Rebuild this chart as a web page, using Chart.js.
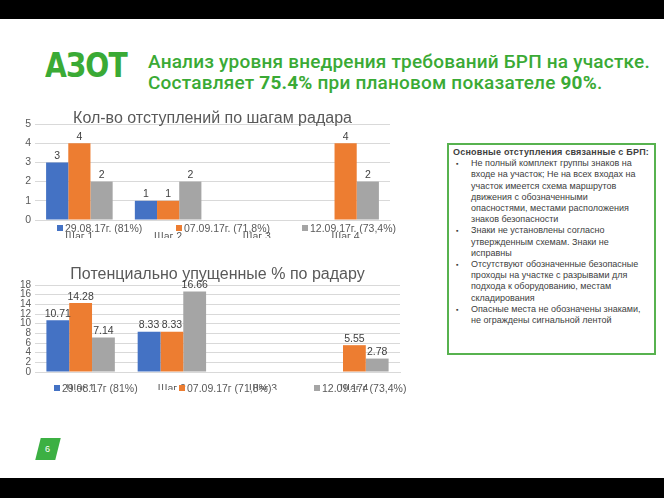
<!DOCTYPE html>
<html><head><meta charset="utf-8">
<script src="https://cdn.jsdelivr.net/npm/chart.js@4"></script>
<style>
html,body{margin:0;padding:0;width:664px;height:498px;overflow:hidden;background:#fff;font-family:"Liberation Sans",Arial,sans-serif;}
.abs{position:absolute}
#topbar{left:0;top:0;width:664px;height:19px;background:#000}
#botbar{left:0;top:478px;width:664px;height:20px;background:#000}
#logo{left:45px;top:45px;font-family:"DejaVu Sans";font-weight:bold;font-size:34px;line-height:40px;color:#3aaa35;transform-origin:left top;transform:scaleX(0.83);letter-spacing:-1px;white-space:nowrap}
#title{left:148px;top:51px;font-family:Roboto,"Liberation Sans";font-weight:500;font-size:19px;letter-spacing:0.2px;line-height:21px;color:#3aaa35;white-space:nowrap}
#title b{font-weight:700}
.chartbox{position:absolute}
.leg{position:absolute;font-size:10.5px;color:#595959;white-space:nowrap;line-height:12px}
.leg i{display:inline-block;width:6px;height:6px;margin-right:2px;vertical-align:1px}
#note{left:447px;top:143px;width:205px;height:208px;border:2px solid #57b24f;color:#404040;font-size:9px;line-height:11.2px}
#note .h{font-weight:bold;margin:2px 0 0 4px;white-space:nowrap;letter-spacing:0.2px}
#note ul{margin:0;padding:0 0 0 22px;list-style:none}
#note li{position:relative;white-space:nowrap}
#note li:before{content:"▪";position:absolute;left:-15px;top:0;font-size:7px}
#page{left:38px;top:438px;width:20px;height:22px;background:#3cb043;transform:skewX(-14deg);color:#fff;font-size:9px;line-height:22px;text-align:center}
</style></head>
<body>
<div id="topbar" class="abs"></div>
<div id="botbar" class="abs"></div>
<div id="logo" class="abs">АЗОТ</div>
<div id="title" class="abs">Анализ уровня внедрения требований БРП на участке.<br>Составляет <b>75.4%</b> при плановом показателе <b>90%</b>.</div>

<div class="chartbox" style="left:15px;top:108px;width:398px;height:130px"><canvas id="c1"></canvas></div>
<div class="chartbox" style="left:15px;top:265px;width:398px;height:125px"><canvas id="c2"></canvas></div>
<div id="leg1"></div>
<div id="leg2"></div>

<div id="note" class="abs">
<div class="h">Основные отступления связанные с БРП:</div>
<ul>
<li>Не полный комплект группы знаков на<br>входе на участок; Не на всех входах на<br>участок имеется схема маршрутов<br>движения с обозначенными<br>опасностями, местами расположения<br>знаков безопасности</li>
<li>Знаки не установлены согласно<br>утвержденным схемам. Знаки не<br>исправны</li>
<li>Отсутствуют обозначенные безопасные<br>проходы на участке с разрывами для<br>подхода к оборудованию, местам<br>складирования</li>
<li>Опасные места не обозначены знаками,<br>не ограждены сигнальной лентой</li>
</ul>
</div>
<div id="page" class="abs"><span style="display:inline-block;transform:skewX(14deg)">6</span></div>

<script>
// ---- data ----
const categories = ['Шаг 1', 'Шаг 2', 'Шаг 3', 'Шаг 4'];
const seriesNames1 = ['29.08.17г. (81%)', '07.09.17г. (71,8%)', '12.09.17г. (73,4%)'];
const seriesNames2 = ['29.08.17г (81%)', '07.09.17г (71,8%)', '12.09.17г (73,4%)'];
const title1 = 'Кол-во отступлений по шагам радара';
const title2 = 'Потенциально упущенные % по радару';
const countA = [3, 1, null, null];
const countB = [4, 1, null, 4];
const countC = [2, 2, null, 2];
const pctA = [10.71, 8.33, null, null];
const pctB = [14.28, 8.33, null, 5.55];
const pctC = [7.14, 16.66, null, 2.78];
const yTicks1 = [0, 1, 2, 3, 4, 5];
const yTicks2 = [0, 2, 4, 6, 8, 10, 12, 14, 16, 18];
const colors = ['#4472c4', '#ed7d31', '#a5a5a5'];

// ---- helpers ----
const valueLabels = {
  id: 'valueLabels',
  afterDatasetsDraw(chart, args, opts) {
    const ctx = chart.ctx;
    ctx.save();
    ctx.font = '10.5px "Liberation Sans", Arial, sans-serif';
    ctx.fillStyle = '#404040';
    ctx.textAlign = 'center';
    ctx.textBaseline = 'bottom';
    chart.data.datasets.forEach((ds, i) => {
      chart.getDatasetMeta(i).data.forEach((el, j) => {
        const v = ds.data[j];
        if (v == null) return;
        ctx.fillText(opts.decimals ? v.toFixed(opts.decimals) : String(v), el.x, el.y - 1);
      });
    });
    ctx.restore();
  }
};

function makeChart(id, title, names, series, ticks, decimals, titlePad, yFont, padRight) {
  const max = ticks[ticks.length - 1];
  const step = ticks[1] - ticks[0];
  return new Chart(document.getElementById(id), {
    type: 'bar',
    data: {
      labels: categories,
      datasets: series.map((d, i) => ({
        label: names[i], data: d, backgroundColor: colors[i],
        barPercentage: 1.0, categoryPercentage: 0.75
      }))
    },
    options: {
      responsive: true, maintainAspectRatio: false, animation: false,
      layout: { padding: { left: 0, right: padRight, top: 0, bottom: 0 } },
      plugins: {
        legend: { display: false },
        tooltip: { enabled: false },
        title: { display: true, text: title, color: '#595959', fullSize: false,
          font: { family: '"Liberation Sans", Arial, sans-serif', size: 16, weight: 'normal', lineHeight: 1.0 },
          padding: titlePad },
        valueLabels: { decimals }
      },
      scales: {
        x: {
          grid: { display: false },
          border: { color: '#d9d9d9' },
          ticks: { color: '#595959', font: { size: 10.5, family: '"Liberation Sans", Arial' }, padding: 3 },
          afterFit: s => { s.height = 18; }
        },
        y: {
          min: 0, max: max,
          grid: { color: '#d9d9d9', drawTicks: false },
          border: { display: false },
          ticks: { stepSize: step, autoSkip: false, color: '#595959', font: { size: yFont, family: '"Liberation Sans", Arial' }, padding: 4 },
          afterFit: s => { s.width = 20; }
        }
      }
    },
    plugins: [valueLabels]
  });
}

makeChart('c1', title1, seriesNames1, [countA, countB, countC], yTicks1, 0, { top: 3, bottom: -3 }, 10.5, 23);
makeChart('c2', title2, seriesNames2, [pctA, pctB, pctC], yTicks2, 2, { top: 2, bottom: 2 }, 10, 13);

function makeLegend(elId, names, lefts, top) {
  const root = document.getElementById(elId);
  names.forEach((n, i) => {
    const d = document.createElement('div');
    d.className = 'leg';
    d.style.left = lefts[i] + 'px';
    d.style.top = top + 'px';
    d.innerHTML = '<i style="background:' + colors[i] + '"></i>' + n;
    root.appendChild(d);
  });
}
makeLegend('leg1', seriesNames1, [57, 176, 302], 222);
makeLegend('leg2', seriesNames2, [54, 179, 314], 382);
</script>
</body></html>
